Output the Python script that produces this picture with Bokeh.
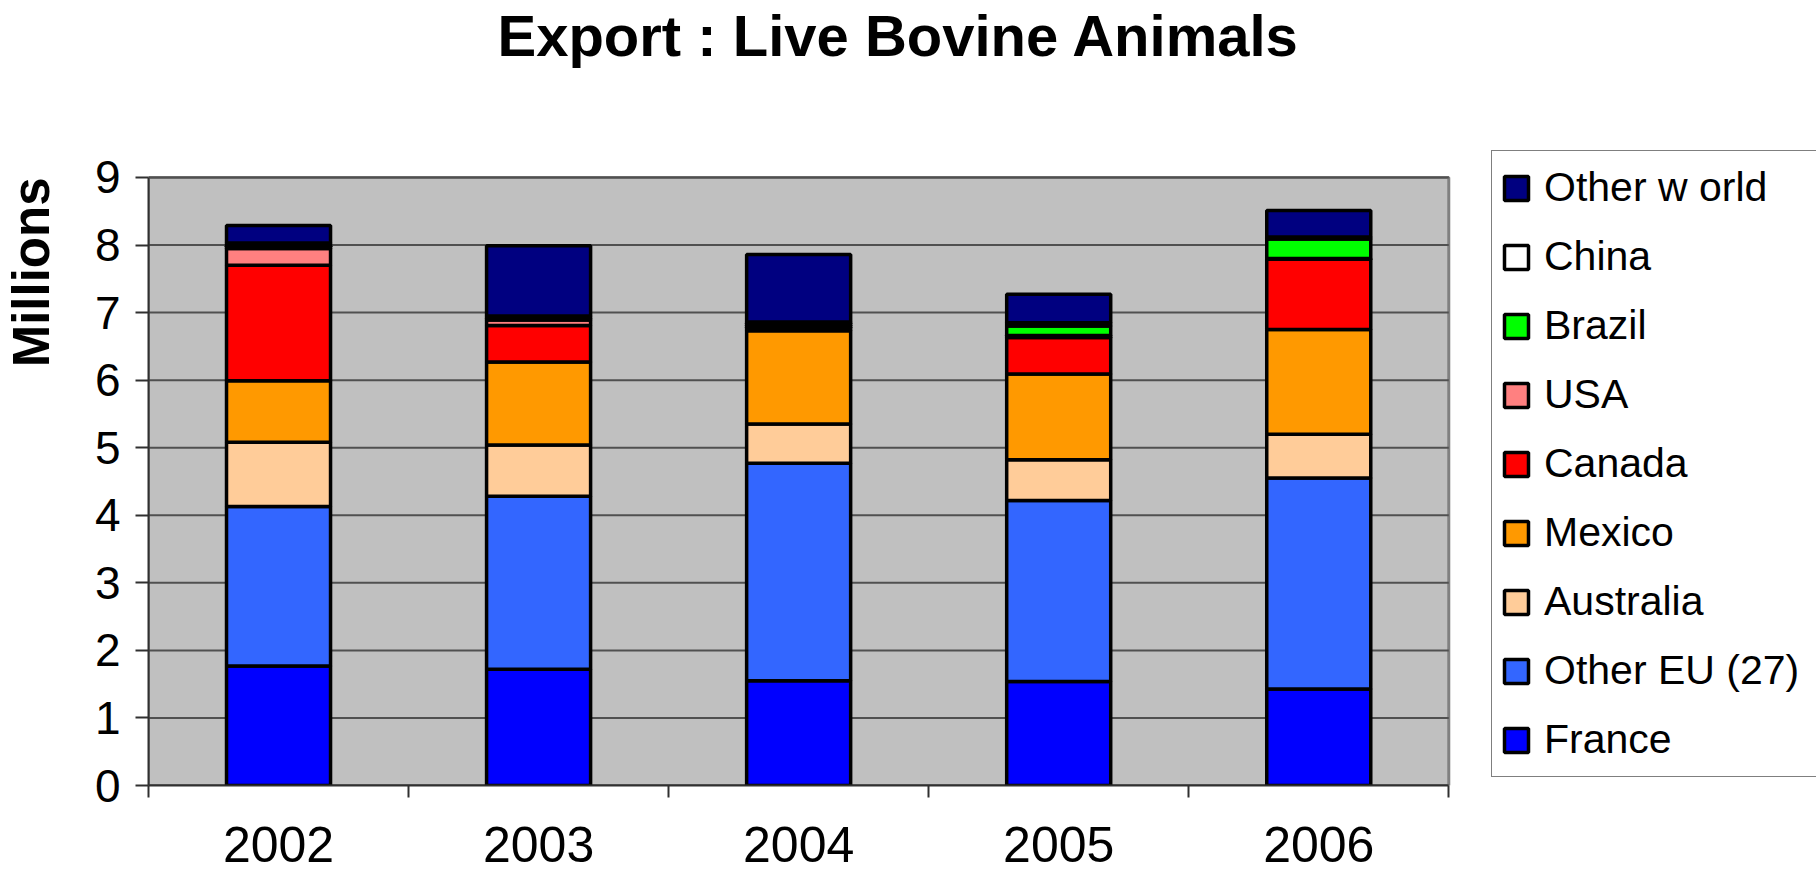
from bokeh.plotting import figure
from bokeh.models import ColumnDataSource, FixedTicker, Legend, LegendItem, Title, Range1d
from bokeh.embed import file_html
from bokeh.resources import INLINE

years = ["2002", "2003", "2004", "2005", "2006"]
series = ["France", "Other EU (27)", "Australia", "Mexico", "Canada", "USA", "Brazil", "China", "Other w orld"]
colors = ["#0000FF", "#3366FF", "#FFCC99", "#FF9900", "#FF0000", "#FF8080", "#00FF00", "#FFFFFF", "#000080"]

france = [1.77, 1.72, 1.55, 1.54, 1.43]
other_eu = [2.36, 2.56, 3.22, 2.68, 3.12]
australia = [0.95, 0.76, 0.58, 0.60, 0.65]
mexico = [0.91, 1.23, 1.38, 1.27, 1.55]
canada = [1.71, 0.54, 0.05, 0.54, 1.04]
usa = [0.25, 0.08, 0.03, 0.03, 0.01]
brazil = [0.03, 0.02, 0.03, 0.14, 0.29]
china = [0.05, 0.04, 0.02, 0.05, 0.03]
other_world = [0.26, 1.04, 1.00, 0.42, 0.39]

y_ticks = [0, 1, 2, 3, 4, 5, 6, 7, 8, 9]
y_max = 9
n = len(years)

keys = ["s%d" % i for i in range(len(series))]
xpos = [i + 0.5 for i in range(n)]
data = dict(x=xpos)
for k, v in zip(keys, [france, other_eu, australia, mexico, canada, usa, brazil, china, other_world]):
    data[k] = v
source = ColumnDataSource(data)

FONT = "Liberation Sans"

# frame extends to the right edge (room for the legend) and a bit above the value axis
p = figure(width=1816, height=872, output_backend="svg", toolbar_location=None, title=None,
           x_range=Range1d(0, 6.414), y_range=Range1d(0, 9.532),
           min_border_left=147, min_border_right=0, min_border_top=140, min_border_bottom=87)

p.add_layout(Title(text=" ", text_font_size="2px", standoff=70), "above")
p.add_layout(Title(text="Export  : Live Bovine Animals", align="left", offset=349, standoff=0,
                   text_font=FONT, text_font_size="58px", text_font_style="bold",
                   text_color="black"), "above")

p.background_fill_color = "white"
p.border_fill_color = "white"
p.outline_line_color = None
p.xgrid.grid_line_color = None
p.ygrid.grid_line_color = None

# plot area
p.quad(left=[0], right=[n], bottom=[0], top=[y_max], fill_color="#C0C0C0",
       line_color="#808080", line_width=3)
# horizontal grid lines
p.segment(x0=[0] * len(y_ticks), x1=[n] * len(y_ticks), y0=y_ticks, y1=y_ticks,
          line_color="#505050", line_width=2)

renderers = p.vbar_stack(keys, x="x", width=0.4, source=source, color=colors,
                         line_color="black", line_width=3.5)

p.yaxis.ticker = FixedTicker(ticks=y_ticks)
p.yaxis.bounds = (0, y_max)
p.yaxis.major_tick_out = 13
p.yaxis.major_tick_in = 0
p.yaxis.minor_tick_line_color = None
p.yaxis.major_label_standoff = 15
p.yaxis.axis_line_color = "#303030"
p.yaxis.axis_line_width = 2
p.yaxis.major_tick_line_color = "#303030"
p.yaxis.major_tick_line_width = 2
p.yaxis.major_label_text_font = FONT
p.yaxis.major_label_text_font_size = "46px"
p.yaxis.major_label_text_color = "black"

p.add_layout(Title(text=" ", text_font_size="2px", standoff=28), "left")
p.add_layout(Title(text="Millions", align="right", offset=36, text_font=FONT, text_font_size="51px",
                   text_font_style="bold", text_color="black", standoff=0), "left")

p.xaxis.ticker = FixedTicker(ticks=xpos, minor_ticks=list(range(n + 1)))
p.xaxis.bounds = (0, n)
p.xaxis.major_label_overrides = {x: y for x, y in zip(xpos, years)}
p.xaxis.major_tick_out = 0
p.xaxis.major_tick_in = 0
p.xaxis.major_tick_line_color = None
p.xaxis.minor_tick_out = 12
p.xaxis.minor_tick_in = 0
p.xaxis.minor_tick_line_color = "#303030"
p.xaxis.minor_tick_line_width = 2
p.xaxis.axis_line_color = "#303030"
p.xaxis.axis_line_width = 2
p.xaxis.major_label_standoff = 29
p.xaxis.major_label_text_font = FONT
p.xaxis.major_label_text_font_size = "50px"
p.xaxis.major_label_text_color = "black"

items = [LegendItem(label=series[i], renderers=[renderers[i]]) for i in reversed(range(len(series)))]
legend = Legend(items=items, location=(1343, 8), ncols=1)
legend.label_text_font = FONT
legend.label_text_font_size = "41px"
legend.label_text_color = "black"
legend.glyph_width = 30
legend.glyph_height = 30
legend.label_height = 55
legend.label_width = 275
legend.spacing = 14
legend.padding = 9
legend.label_standoff = 13
legend.margin = 0
legend.border_line_color = "black"
legend.border_line_width = 1.5
legend.background_fill_color = "white"
legend.background_fill_alpha = 1
p.add_layout(legend, "center")

open("out.html", "w").write(file_html(p, INLINE))
